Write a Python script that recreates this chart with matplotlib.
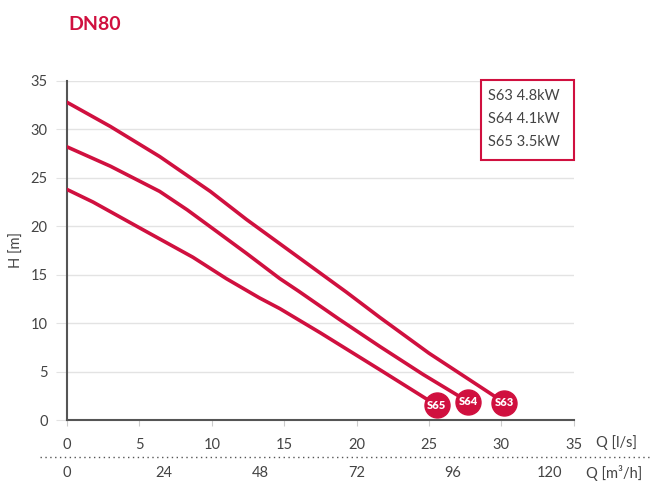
import numpy as np
import matplotlib.pyplot as plt
from matplotlib.patches import Rectangle

plt.rcParams['font.family'] = ['Lato', 'DejaVu Sans']

# pump curves, Q in l/s, H in m
q_s63 = [0, 3, 6.4, 9.9, 12.4, 14.7, 17, 19.3, 21.6, 25, 30.2]
h_s63 = [32.8, 30.3, 27.2, 23.6, 20.7, 18.2, 15.7, 13.2, 10.6, 6.9, 1.8]
q_s64 = [0, 3, 6.4, 8.3, 10.4, 12.4, 14.7, 16, 18.8, 21.6, 24.6, 27.7]
h_s64 = [28.2, 26.2, 23.6, 21.7, 19.4, 17.2, 14.6, 13.3, 10.4, 7.6, 4.7, 1.9]
q_s65 = [0, 1.8, 5.3, 8.7, 11, 13.3, 14.7, 17.5, 21.6, 25.55]
h_s65 = [23.8, 22.5, 19.6, 16.8, 14.6, 12.6, 11.5, 9.0, 5.2, 1.5]

names = ["S63", "S64", "S65"]
legend_lines = ["S63 4.8kW", "S64 4.1kW", "S65 3.5kW"]

ls_ticks = [0, 5, 10, 15, 20, 25, 30, 35]
m3h_ticks = [0, 24, 48, 72, 96, 120]

red = "#d0103f"
grey = "#444444"

fig = plt.figure(figsize=(6.53, 4.82), dpi=100)
ax = fig.add_axes([0.1026, 0.1286, 0.776, 0.7034])

for q, h, n in zip([q_s63, q_s64, q_s65], [h_s63, h_s64, h_s65], names):
    ax.plot(q, h, color=red, lw=2.6, solid_capstyle="round", solid_joinstyle="round", zorder=3)
    ax.plot(q[-1], h[-1], "o", ms=18, color=red, zorder=4)
    ax.text(q[-1], h[-1], n, color="white", fontsize=8, fontweight="heavy",
            ha="center", va="center", zorder=5)

ax.set_xlim(0, 35)
ax.set_ylim(0, 35)
ax.set_xticks(ls_ticks)
ax.set_yticks(range(0, 36, 5))
ax.yaxis.grid(True, color="#e3e3e3", lw=1)
ax.set_axisbelow(True)
for s in ["top", "right"]:
    ax.spines[s].set_visible(False)
for s in ["left", "bottom"]:
    ax.spines[s].set_color("#555555")
    ax.spines[s].set_linewidth(1.5)
ax.tick_params(axis="y", length=8, color="#e3e3e3", labelsize=10.5, labelcolor=grey, pad=6)
ax.tick_params(axis="x", length=4, color="#cccccc", labelsize=10.5, labelcolor=grey, pad=9)
ax.set_ylabel("H [m]", fontsize=10.5, color=grey)
ax.yaxis.set_label_coords(-0.085, 0.5)

# second flow scale in m3/h
for v in m3h_ticks:
    ax.text(v / 3.6, -5.47, str(v), ha="center", va="center", fontsize=10.5, color=grey,
            clip_on=False)
ax.text(37.96, -2.37, "Q [l/s]", ha="center", va="center", fontsize=10.5, color=grey,
        clip_on=False)
ax.text(37.8, -5.47, "Q [m³/h]", ha="center", va="center", fontsize=10.5, color=grey,
        clip_on=False)
fig.add_artist(plt.Line2D([40 / 653, 1.0], [25 / 482, 25 / 482], color="#555555",
                          lw=1, ls=(0, (1, 2.5))))

# legend box
ax.add_patch(Rectangle((0.8166, 0.767), 0.1834, 0.236, transform=ax.transAxes,
                       fc="white", ec=red, lw=1.5, clip_on=False, zorder=6))
for i, line in enumerate(legend_lines):
    ax.text(0.830, (420 - 96 - 23 * i) / 339, line, transform=ax.transAxes, ha="left",
            va="center", fontsize=10.5, color=grey, zorder=7)

fig.text(68 / 653, 1 - 24 / 482, "DN80", color=red, fontsize=14, fontweight="bold",
         ha="left", va="center")

fig.savefig("out.png", dpi=100)
